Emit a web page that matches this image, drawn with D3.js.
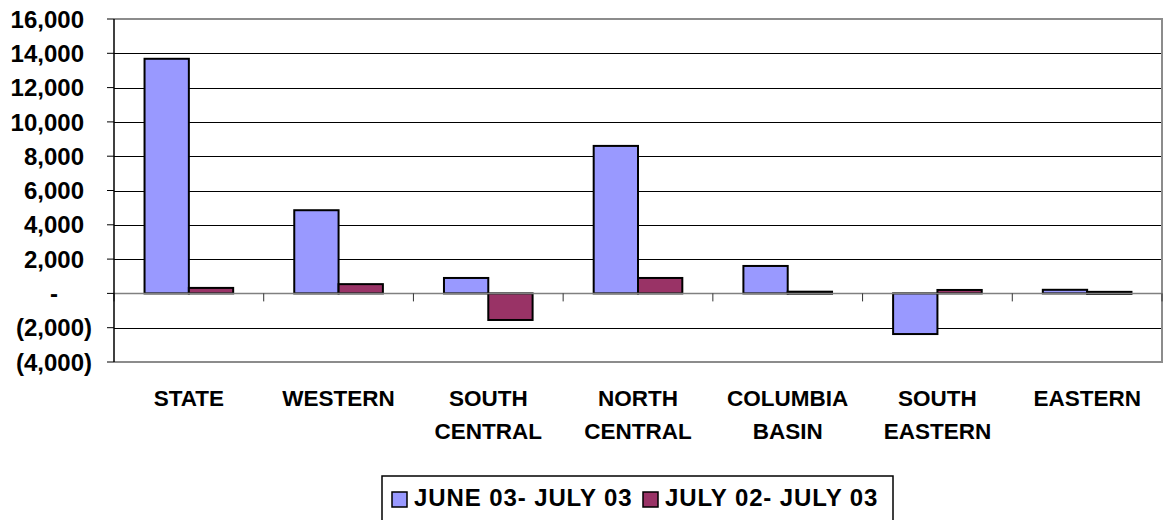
<!DOCTYPE html>
<html>
<head>
<meta charset="utf-8">
<script src="https://cdn.jsdelivr.net/npm/d3@7"></script>
<style>
  body { margin: 0; background: #fff; }
  text { font-family: "Liberation Sans", Arial, sans-serif; font-weight: bold; fill: #000; }
</style>
</head>
<body>
<script>
// Regions and the two change series
var regions = [["STATE"], ["WESTERN"], ["SOUTH", "CENTRAL"], ["NORTH", "CENTRAL"],
               ["COLUMBIA", "BASIN"], ["SOUTH", "EASTERN"], ["EASTERN"]];
var seriesNames = ["JUNE 03- JULY 03", "JULY 02- JULY 03"];
var juneToJuly = [13680, 4850, 900, 8600, 1600, -2370, 210];
var yearToYear = [320, 540, -1550, 900, 100, 200, 90];
var yTicks = [-4000, -2000, 0, 2000, 4000, 6000, 8000, 10000, 12000, 14000, 16000];
var colors = ["#9999ff", "#993366"];

var width = 1165, height = 520;
var plotLeft = 114, plotRight = 1162, plotTop = 19, plotBottom = 362;

var svg = d3.select("body").append("svg")
    .attr("width", width)
    .attr("height", height);

var y = d3.scaleLinear().domain([-4000, 16000]).range([plotBottom, plotTop]);

var x0 = d3.scaleBand()
    .domain(d3.range(regions.length))
    .range([plotLeft, plotRight])
    .paddingInner(0.408)
    .paddingOuter(0.204);

var x1 = d3.scaleBand().domain([0, 1]).range([0, x0.bandwidth()]);

var step = x0.step();

// Gridlines
svg.append("g")
    .selectAll("line")
    .data(yTicks.filter(function(d) { return d !== 0 && d !== -4000 && d !== 16000; }))
    .enter().append("line")
    .attr("x1", plotLeft).attr("x2", plotRight)
    .attr("y1", function(d) { return Math.round(y(d)) + 0.5; })
    .attr("y2", function(d) { return Math.round(y(d)) + 0.5; })
    .attr("stroke", "#000")
    .attr("stroke-width", 1);

// plot area frame (grey top, bottom and right)
svg.append("path")
    .attr("d", "M" + plotLeft + "," + y(16000) + "H" + plotRight + "V" + y(-4000) + "H" + plotLeft)
    .attr("fill", "none")
    .attr("stroke", "#8c8c8c")
    .attr("stroke-width", 2);

// Bars
var data = regions.map(function(r, i) { return [juneToJuly[i], yearToYear[i]]; });

var groups = svg.append("g")
    .selectAll("g")
    .data(data)
    .enter().append("g")
    .attr("transform", function(d, i) { return "translate(" + x0(i) + ",0)"; });

groups.selectAll("rect")
    .data(function(d) { return d; })
    .enter().append("rect")
    .attr("x", function(d, j) { return x1(j); })
    .attr("y", function(d) { return y(Math.max(0, d)); })
    .attr("width", x1.bandwidth())
    .attr("height", function(d) { return Math.max(2, Math.abs(y(d) - y(0))); })
    .attr("fill", function(d, j) { return colors[j]; })
    .attr("stroke", "#000")
    .attr("stroke-width", 2);

// Zero line and category ticks
svg.append("line")
    .attr("x1", plotLeft).attr("x2", plotRight)
    .attr("y1", y(0)).attr("y2", y(0))
    .attr("stroke", "#808080")
    .attr("stroke-width", 1.5);

svg.append("g")
    .selectAll("line")
    .data(d3.range(regions.length + 1))
    .enter().append("line")
    .attr("x1", function(i) { return plotLeft + i * step; })
    .attr("x2", function(i) { return plotLeft + i * step; })
    .attr("y1", y(0)).attr("y2", y(0) + 8)
    .attr("stroke", "#333")
    .attr("stroke-width", 1);

// Value axis
var yAxis = svg.append("g");
yAxis.append("line")
    .attr("x1", plotLeft).attr("x2", plotLeft)
    .attr("y1", plotTop).attr("y2", plotBottom)
    .attr("stroke", "#000")
    .attr("stroke-width", 1.5);

yAxis.selectAll("line.tick")
    .data(yTicks)
    .enter().append("line")
    .attr("class", "tick")
    .attr("x1", plotLeft - 7).attr("x2", plotLeft)
    .attr("y1", function(d) { return y(d); })
    .attr("y2", function(d) { return y(d); })
    .attr("stroke", "#000");

// accounting style labels: positives padded for ")" and zero shown as dash
var fmt = d3.format(",");
yAxis.selectAll("text")
    .data(yTicks)
    .enter().append("text")
    .attr("x", function(d) { return d < 0 ? 92 : d === 0 ? 58 : 84; })
    .attr("y", function(d) { return y(d); })
    .attr("dy", "0.36em")
    .attr("text-anchor", "end")
    .style("font-size", "24px")
    .text(function(d) { return d < 0 ? "(" + fmt(-d) + ")" : d === 0 ? "-" : fmt(d); });

// Category labels
var cats = svg.append("g")
    .selectAll("text")
    .data(regions)
    .enter().append("text")
    .attr("x", function(d, i) { return plotLeft + (i + 0.5) * step; })
    .attr("y", 406)
    .attr("text-anchor", "middle")
    .style("font-size", "22.5px");

cats.selectAll("tspan")
    .data(function(d) { return d; })
    .enter().append("tspan")
    .attr("x", function() { return d3.select(this.parentNode).attr("x"); })
    .attr("dy", function(d, k) { return k === 0 ? 0 : 33; })
    .text(function(d) { return d; });

// Legend
var legend = svg.append("g");
legend.append("rect")
    .attr("x", 382).attr("y", 476)
    .attr("width", 511).attr("height", 60)
    .attr("fill", "#fff")
    .attr("stroke", "#000")
    .attr("stroke-width", 1.5);

var legendX = [392, 643];
seriesNames.forEach(function(name, j) {
  legend.append("rect")
      .attr("x", legendX[j]).attr("y", 492)
      .attr("width", 15).attr("height", 15)
      .attr("fill", colors[j])
      .attr("stroke", "#000")
      .attr("stroke-width", 1.5);
  legend.append("text")
      .attr("x", legendX[j] + 22).attr("y", 506)
      .style("font-size", "24px")
      .style("letter-spacing", "0.9px")
      .text(name);
});
</script>
</body>
</html>
